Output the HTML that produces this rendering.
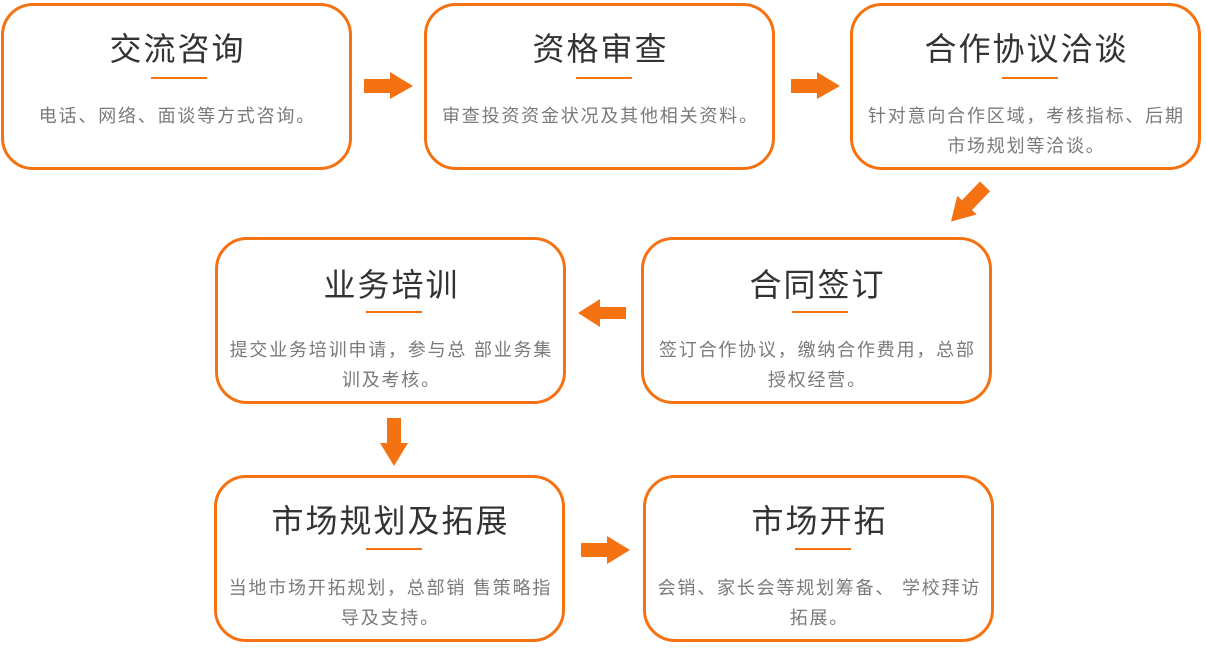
<!DOCTYPE html>
<html>
<head>
<meta charset="utf-8">
<style>
html,body{margin:0;padding:0;background:#fff;}
body{width:1206px;height:657px;position:relative;overflow:hidden;font-family:"Liberation Sans","Noto Sans CJK SC",sans-serif;}
.box{position:absolute;box-sizing:border-box;border:3px solid #f57212;border-radius:32px;width:351px;height:167px;background:#fff;}
.t{position:absolute;text-align:center;font-size:32px;line-height:40px;color:#333;letter-spacing:2px;padding-left:2px;box-sizing:border-box;white-space:nowrap;}
.u{position:absolute;height:2px;width:56px;background:#f57212;}
.d{position:absolute;text-align:center;font-size:18px;line-height:30px;color:#7a7a7a;letter-spacing:1.8px;padding-left:1.8px;box-sizing:border-box;white-space:nowrap;}
svg{position:absolute;left:0;top:0;}
</style>
</head>
<body>
<!-- Row 1 -->
<div class="box" style="left:1px;top:3px;"></div>
<div class="t" style="left:1px;width:351px;top:29px;">交流咨询</div>
<div class="u" style="left:151px;top:77px;"></div>
<div class="d" style="left:1px;width:351px;top:101px;">电话、网络、面谈等方式咨询。</div>

<div class="box" style="left:424px;top:3px;"></div>
<div class="t" style="left:424px;width:351px;top:29px;">资格审查</div>
<div class="u" style="left:576px;top:77px;"></div>
<div class="d" style="left:424px;width:351px;top:101px;">审查投资资金状况及其他相关资料。</div>

<div class="box" style="left:850px;top:3px;"></div>
<div class="t" style="left:850px;width:351px;top:29px;">合作协议洽谈</div>
<div class="u" style="left:1002px;top:77px;"></div>
<div class="d" style="left:850px;width:351px;top:101px;">针对意向合作区域，考核指标、后期<br>市场规划等洽谈。</div>

<!-- Row 2 -->
<div class="box" style="left:215px;top:237px;"></div>
<div class="t" style="left:215px;width:351px;top:265px;">业务培训</div>
<div class="u" style="left:366px;top:311px;"></div>
<div class="d" style="left:215px;width:351px;top:335px;">提交业务培训申请，参与总 部业务集<br>训及考核。</div>

<div class="box" style="left:641px;top:237px;"></div>
<div class="t" style="left:641px;width:351px;top:265px;">合同签订</div>
<div class="u" style="left:792px;top:311px;"></div>
<div class="d" style="left:641px;width:351px;top:335px;">签订合作协议，缴纳合作费用，总部<br>授权经营。</div>

<!-- Row 3 -->
<div class="box" style="left:214px;top:475px;"></div>
<div class="t" style="left:214px;width:351px;top:501px;">市场规划及拓展</div>
<div class="u" style="left:366px;top:548px;"></div>
<div class="d" style="left:214px;width:351px;top:573px;">当地市场开拓规划，总部销 售策略指<br>导及支持。</div>

<div class="box" style="left:643px;top:475px;"></div>
<div class="t" style="left:643px;width:351px;top:501px;">市场开拓</div>
<div class="u" style="left:795px;top:548px;"></div>
<div class="d" style="left:643px;width:351px;top:573px;">会销、家长会等规划筹备、 学校拜访<br>拓展。</div>

<svg width="1206" height="657" viewBox="0 0 1206 657">
  <g fill="#f57212">
    <polygon points="364,79 390,79 390,72 413,86 390,99 390,93 364,93"/>
    <polygon points="791,79 817,79 817,72 840,86 817,99 817,93 791,93"/>
    <g transform="translate(968,204) rotate(134)">
      <polygon points="-24.5,-7 1.5,-7 1.5,-13.5 24.5,0 1.5,13.5 1.5,7 -24.5,7"/>
    </g>
    <polygon points="626,307 600,307 600,299 578,313 600,327 600,319 626,319"/>
    <polygon points="387,418 401,418 401,443 408,443 394,466 380,443 387,443"/>
    <polygon points="581,543 607,543 607,536 630,550 607,564 607,557 581,557"/>
  </g>
</svg>
</body>
</html>
